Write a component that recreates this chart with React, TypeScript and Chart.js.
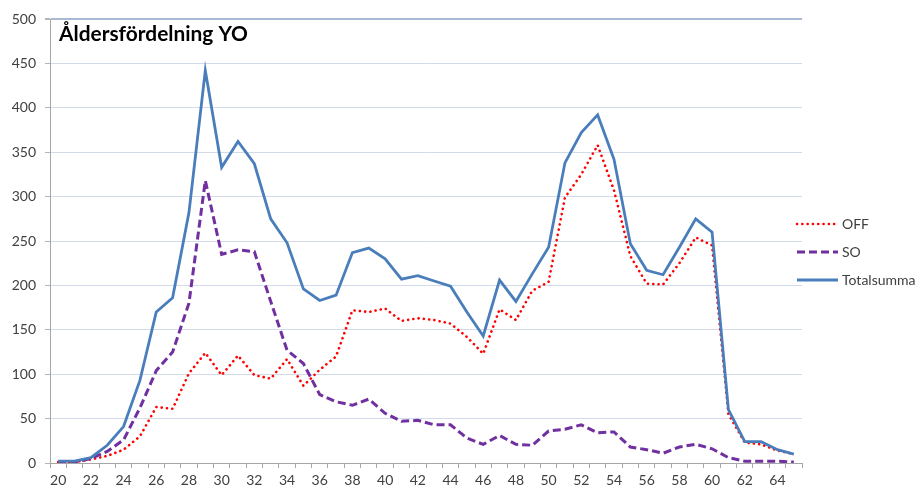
import React, { useEffect, useRef } from "react";
import { Chart, registerables } from "chart.js";

Chart.register(...registerables);

const ages = [
  "20", "21", "22", "23", "24", "25", "26", "27", "28", "29",
  "30", "31", "32", "33", "34", "35", "36", "37", "38", "39",
  "40", "41", "42", "43", "44", "45", "46", "47", "48", "49",
  "50", "51", "52", "53", "54", "55", "56", "57", "58", "59",
  "60", "61", "62", "63", "64", "65",
];

const offValues = [
  1, 1, 4, 8, 15, 30, 63, 61, 101, 124,
  99, 121, 99, 95, 117, 87, 105, 120, 172, 170,
  174, 160, 163, 161, 157, 142, 123, 173, 161, 194,
  204, 299, 325, 358, 307, 233, 202, 201, 225, 254,
  245, 55, 23, 21, 14, 10,
];

const soValues = [
  1, 1, 5, 13, 26, 62, 104, 125, 180, 318,
  235, 240, 238, 182, 127, 112, 77, 69, 65, 72,
  56, 47, 48, 43, 43, 28, 21, 31, 21, 20,
  36, 38, 43, 34, 35, 18, 15, 11, 18, 21,
  16, 6, 2, 2, 2, 1,
];

const totalValues = [
  2, 2, 6, 20, 41, 93, 170, 186, 282, 442,
  333, 362, 337, 275, 248, 196, 183, 189, 237, 242,
  230, 207, 211, 205, 199, 170, 143, 206, 182, 213,
  243, 338, 372, 392, 342, 247, 217, 212, 243, 275,
  260, 60, 24, 24, 15, 10,
];

const seriesNames = ["OFF", "SO", "Totalsumma"];
const chartTitle = "Åldersfördelning YO";
const yMin = 0;
const yMax = 500;
const yStep = 50;

const FONT = "Lato, 'Open Sans', 'DejaVu Sans', sans-serif";
const TEXT_COLOR = "#404040";

const overlayPlugin = {
  id: "overlay",
  afterDraw(chart: any) {
    const { ctx, chartArea } = chart;
    ctx.save();
    // Title inside the plot area
    let size = 20;
    ctx.font = `bold ${size}px ${FONT}`;
    const w = ctx.measureText(chartTitle).width;
    size = size * (189 / w);
    ctx.font = `bold ${size}px ${FONT}`;
    ctx.fillStyle = "#000000";
    ctx.textAlign = "left";
    ctx.textBaseline = "alphabetic";
    ctx.fillText(chartTitle, chartArea.left + 9, chartArea.top + 22);

    // Legend on the right
    const x0 = chartArea.right - 5;
    const lineLen = 41;
    const y0 = chartArea.top + 205;
    const gap = 28;
    chart.data.datasets.forEach((ds: any, i: number) => {
      const y = y0 + i * gap;
      ctx.save();
      ctx.strokeStyle = ds.borderColor;
      ctx.lineWidth = ds.borderWidth;
      ctx.lineCap = ds.borderCapStyle || "butt";
      ctx.setLineDash(ds.borderDash || []);
      ctx.beginPath();
      ctx.moveTo(x0, y);
      ctx.lineTo(x0 + lineLen, y);
      ctx.stroke();
      ctx.restore();
      ctx.font = `14px ${FONT}`;
      ctx.fillStyle = TEXT_COLOR;
      ctx.textBaseline = "middle";
      ctx.textAlign = "left";
      ctx.fillText(ds.label, x0 + lineLen + 4, y);
    });
    ctx.restore();
  },
};

export default function App() {
  const canvasRef = useRef<HTMLCanvasElement | null>(null);

  useEffect(() => {
    const canvas = canvasRef.current;
    if (!canvas) return;
    const chart = new Chart(canvas, {
      type: "line",
      data: {
        labels: ages,
        datasets: [
          {
            label: seriesNames[0],
            data: offValues,
            borderColor: "#ff0000",
            borderWidth: 2.6,
            borderDash: [0.1, 5.2],
            borderCapStyle: "round",
            pointRadius: 0,
            tension: 0,
            fill: false,
            order: 2,
          },
          {
            label: seriesNames[1],
            data: soValues,
            borderColor: "#7030a0",
            borderWidth: 3,
            borderDash: [8, 4],
            borderCapStyle: "butt",
            pointRadius: 0,
            tension: 0,
            fill: false,
            order: 1,
          },
          {
            label: seriesNames[2],
            data: totalValues,
            borderColor: "#4a7ebb",
            borderWidth: 2.8,
            borderDash: [],
            borderCapStyle: "butt",
            pointRadius: 0,
            tension: 0,
            fill: false,
            order: 0,
          },
        ],
      },
      options: {
        responsive: false,
        animation: false,
        devicePixelRatio: 1,
        layout: { padding: { left: 0, top: 19, right: 120, bottom: 0 } },
        plugins: {
          legend: { display: false },
          title: { display: false },
          tooltip: { enabled: false },
        },
        scales: {
          x: {
            type: "category",
            offset: true,
            afterFit: (scale: any) => {
              scale.height = 25;
            },
            grid: {
              offset: true,
              drawOnChartArea: false,
              drawTicks: true,
              tickLength: 5,
              color: "#a6a6a6",
            },
            border: { display: true, color: "#a6a6a6", width: 1 },
            ticks: {
              autoSkip: false,
              maxRotation: 0,
              minRotation: 0,
              padding: 4,
              color: TEXT_COLOR,
              font: { family: FONT, size: 14 },
              callback: (_v: any, idx: number) => (idx % 2 === 0 ? ages[idx] : ""),
            },
          },
          y: {
            min: yMin,
            max: yMax,
            afterFit: (scale: any) => {
              scale.width = 50;
            },
            grid: {
              color: (c: any) => (c.tick && c.tick.value === yMax ? "#a9b9d4" : "#d3dbea"),
              lineWidth: (c: any) => (c.tick && c.tick.value === yMax ? 2 : 1),
              drawTicks: true,
              tickLength: 5,
              tickColor: "#b5b5b5",
            },
            border: { display: true, color: "#a6a6a6", width: 1 },
            ticks: {
              stepSize: yStep,
              padding: 9,
              color: TEXT_COLOR,
              font: { family: FONT, size: 14 },
            },
          },
        },
      },
      plugins: [overlayPlugin],
    });
    return () => {
      chart.destroy();
    };
  }, []);

  return (
    <div style={{ position: "fixed", left: 0, top: 0, width: 922, height: 488, background: "#ffffff" }}>
      <canvas ref={canvasRef} width={922} height={488} style={{ display: "block", width: 922, height: 488 }} />
    </div>
  );
}
